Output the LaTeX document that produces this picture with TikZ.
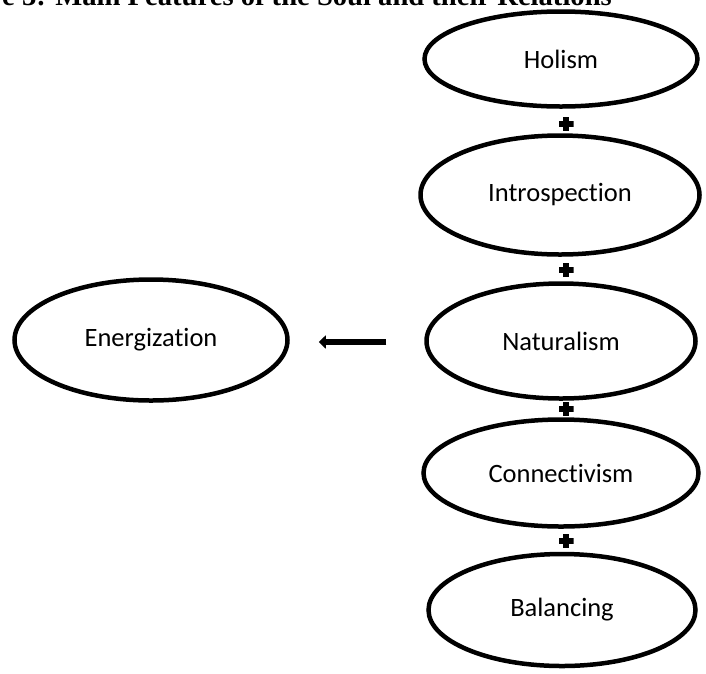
\documentclass[tikz,border=0pt]{standalone}
\usepackage{fontspec}
\setmainfont{Carlito}[Ligatures=NoCommon]
\newfontfamily\titlefont{Liberation Serif}
\usetikzlibrary{shapes.geometric,arrows.meta,calc}

\tikzset{
  feature/.style={ellipse, draw=black, line width=4.5pt, inner sep=0pt,
    font=\fontsize{26.5}{30}\selectfont},
  plusmark/.style={minimum size=15pt, inner sep=0pt,
    path picture={
      \fill ([xshift=-7.5pt,yshift=-2.6pt]path picture bounding box.center) rectangle ++(15pt,5.2pt);
      \fill ([xshift=-2.6pt,yshift=-7pt]path picture bounding box.center) rectangle ++(5.2pt,14pt);
    }},
  flow/.style={line width=5.5pt, -{Triangle[length=7pt,width=13pt]}}
}

\begin{document}
\begin{tikzpicture}[x=1pt,y=-1pt]
  \useasboundingbox (0,0) rectangle (706,673);
  \clip (0,0) rectangle (706,673);

  % heading, cut off at the top edge
  \node[anchor=base west, inner sep=0pt, font=\titlefont\bfseries\fontsize{28.6}{30}\selectfont]
    (title) at (2,5) {e 3: Main Features of the Soul and their Relations};

  % the five features, stacked
  \node[feature, minimum width=273pt, minimum height=95pt]  (holism) at (561,59)  {Holism};
  \node[feature, minimum width=279pt, minimum height=119pt] (intro)  at (560,195) {Introspection};
  \node[feature, minimum width=269pt, minimum height=115pt] (natur)  at (561,341) {Naturalism};
  \node[feature, minimum width=275pt, minimum height=107pt] (conn)   at (561,473) {Connectivism};
  \node[feature, minimum width=267pt, minimum height=112pt] (bal)    at (562,610) {Balancing};

  % the result
  \node[feature, minimum width=273pt, minimum height=121pt] (energ)  at (151,340) {Energization};

  % plus signs between the features
  \node[plusmark] (p1) at (566,124) {};
  \node[plusmark] (p2) at (566,270) {};
  \node[plusmark] (p3) at (566,409) {};
  \node[plusmark] (p4) at (566,541) {};

  % arrow towards the result
  \coordinate (aStart) at ($(natur.west)+(-38,1)$);
  \coordinate (aEnd)   at ($(energ.east)+(29,2)$);
  \draw[flow] (aStart) -- (aEnd);
\end{tikzpicture}
\end{document}
